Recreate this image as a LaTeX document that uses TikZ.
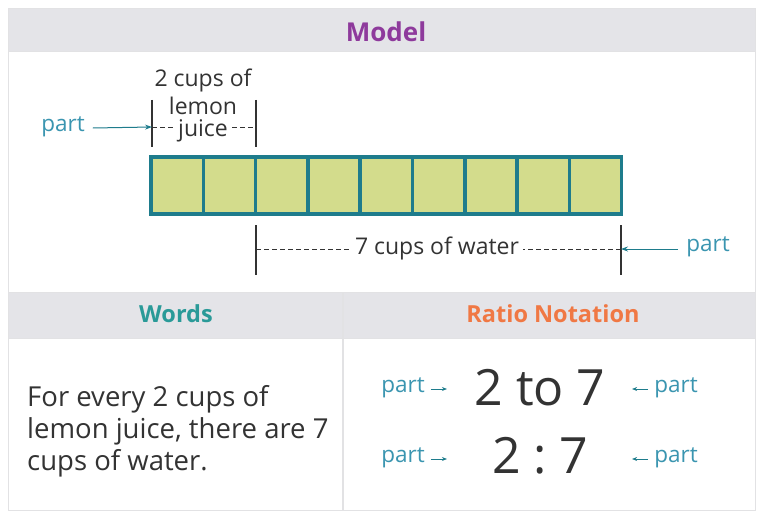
\documentclass[tikz,border=0pt]{standalone}
\usepackage{fontspec}
\setmainfont{Open Sans}
\usetikzlibrary{arrows.meta}
\definecolor{hdr}{HTML}{E4E4E8}
\definecolor{grid}{HTML}{E2E2E4}
\definecolor{modelc}{HTML}{8E3A9C}
\definecolor{wordsc}{HTML}{2A9A98}
\definecolor{ratioc}{HTML}{F07844}
\definecolor{barfill}{HTML}{D3DC8C}
\definecolor{barline}{HTML}{1E7C8C}
\definecolor{partc}{HTML}{3A95B0}
\definecolor{txt}{HTML}{333333}
\tikzset{
  hdrtext/.style={font=\bfseries\fontsize{23.5}{28}\selectfont},
  parttext/.style={text=partc,font=\fontsize{22.5}{26}\selectfont,inner sep=1pt},
  lbl/.style={text=txt,font=\fontsize{23}{27}\selectfont,inner sep=2pt},
  tick/.style={draw=txt,line width=1.3pt},
  dashline/.style={draw=txt,dashed,dash pattern=on 5pt off 3pt,line width=0.8pt},
  partarrow/.style={draw=barline,line width=1pt,-{Stealth[length=7pt,width=5pt]}},
  smallarrow/.style={draw=barline,line width=1pt,-{Stealth[length=5pt,width=4pt]}},
  cell/.style={draw=barline,line width=3.5pt,fill=barfill},
  big/.style={text=txt,font=\fontsize{50}{56}\selectfont,inner sep=0pt}
}
\begin{document}
\begin{tikzpicture}[x=1pt,y=-1pt]
\useasboundingbox (0,0) rectangle (759,516);
\fill[white] (0,0) rectangle (759,516);
% table frame
\fill[hdr] (8,9) rectangle (755,52);
\fill[hdr] (8,292) rectangle (755,338);
\draw[grid,line width=1pt] (8,9) rectangle (755,510);
\draw[grid,line width=1pt] (8,52) -- (755,52);
\draw[grid,line width=1pt] (8,292) -- (755,292);
\draw[grid,line width=1pt] (8,338) -- (755,338);
\draw[grid,line width=1.5pt] (343,292) -- (343,510);
% headers
\node[hdrtext,text=modelc,font=\bfseries\fontsize{26}{30}\selectfont] (model) at (386,32) {Model};
\node[hdrtext,text=wordsc] (words) at (176,314) {Words};
\node[hdrtext,text=ratioc] (ratio) at (553,314) {Ratio Notation};
% bar
\foreach \i in {0,...,8} {
  \draw[cell] ({151+\i*52.3},157) rectangle ({151+(\i+1)*52.3},214);
}
% top bracket
\coordinate (tl1) at (152,100); \coordinate (tl2) at (152,147);
\coordinate (tr1) at (256,100); \coordinate (tr2) at (256,147);
\draw[tick] (tl1) -- (tl2);
\draw[tick] (tr1) -- (tr2);
\coordinate (tdl) at (152,127); \coordinate (tdr) at (256,127);
\draw[dashline] (tdl) -- (tdr);
\node[lbl] (t1) at (203,80) {2 cups of};
\node[lbl] (t2) at (203,106) {lemon};
\node[lbl,fill=white,inner xsep=3pt] (t3) at (203,131) {juice};
\node[parttext] (pl) at (63,127) {part};
\draw[partarrow] (pl.east) ++(7,1) coordinate (pls) -- (tdl);
% bottom bracket
\coordinate (bl1) at (256,225); \coordinate (bl2) at (256,275);
\coordinate (br1) at (621,225); \coordinate (br2) at (621,275);
\draw[tick] (bl1) -- (bl2);
\draw[tick] (br1) -- (br2);
\coordinate (bdl) at (256,249); \coordinate (bdr) at (621,249);
\draw[dashline] (bdl) -- (bdr);
\node[lbl,fill=white,inner xsep=4pt] (water) at (437,248) {7 cups of water};
\node[parttext] (pr) at (708,247) {part};
\draw[partarrow] (pr.west) ++(-7,2) coordinate (prs) -- (bdr);
% words
\node[text=txt,font=\fontsize{27.5}{32}\selectfont,align=left,anchor=north west,inner sep=0pt] (wtext) at (27,385) {For every 2 cups of\\lemon juice, there are 7\\cups of water.};
% ratio notation
\node[big] (r1) at (540,388) {2 to 7};
\node[big] (r2) at (540,456) {2\hspace{0.25em}:\hspace{0.25em}7};
\node[parttext] (p1l) at (403,388) {part};
\node[parttext] (p1r) at (676,388) {part};
\node[parttext] (p2l) at (403,458) {part};
\node[parttext] (p2r) at (676,458) {part};
\draw[smallarrow] (p1l.east) ++(5,1) -- ++(16,0) coordinate (a1);
\draw[smallarrow] (p1r.west) ++(-5,1) -- ++(-16,0) coordinate (a2);
\draw[smallarrow] (p2l.east) ++(5,1) -- ++(16,0) coordinate (a3);
\draw[smallarrow] (p2r.west) ++(-5,1) -- ++(-16,0) coordinate (a4);
\end{tikzpicture}
\end{document}
